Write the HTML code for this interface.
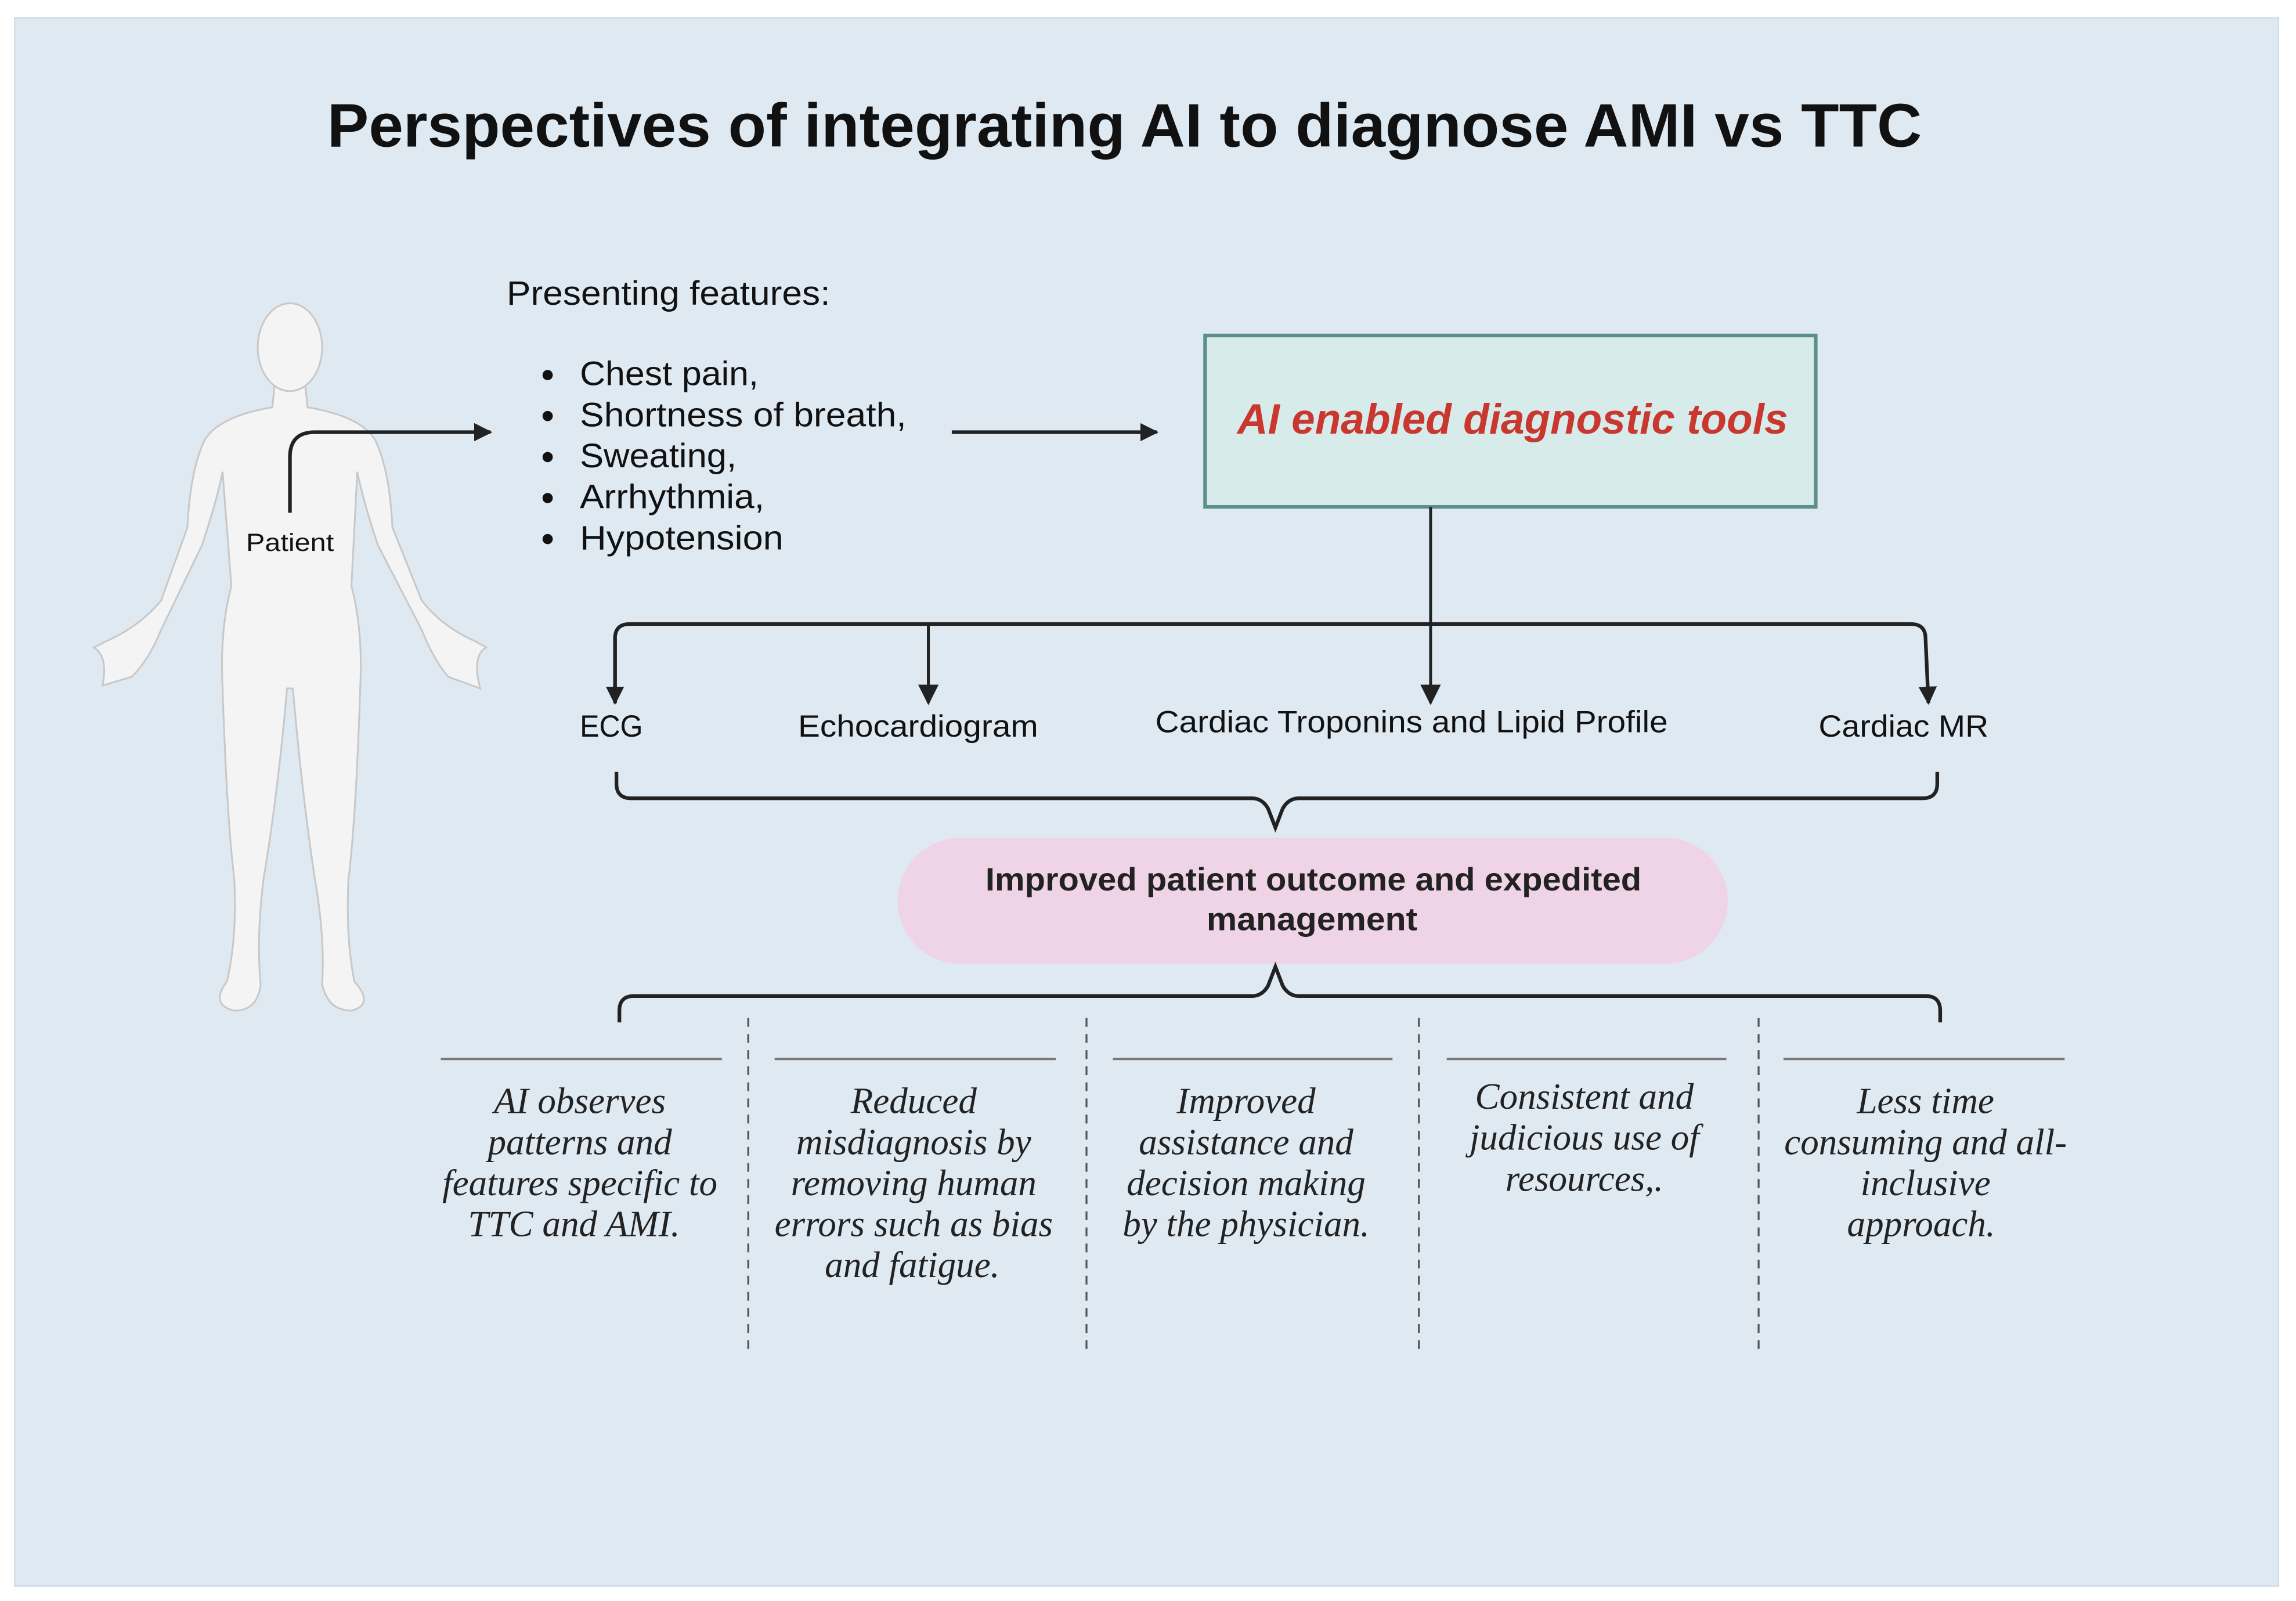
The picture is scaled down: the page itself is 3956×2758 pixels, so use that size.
<!DOCTYPE html>
<html><head><meta charset="utf-8"><style>
html,body{margin:0;padding:0;background:#fff}
svg{display:block}
.s{font-family:"Liberation Sans",sans-serif}
.i{font-family:"Liberation Serif",serif;font-style:italic;font-size:25px;fill:#222}
</style></head><body>
<svg width="3956" height="2758" viewBox="0 0 1568 1093" xmlns="http://www.w3.org/2000/svg">
<defs>
<marker id="ah" viewBox="0 0 10 10" refX="9" refY="5" markerWidth="5" markerHeight="5" orient="auto-start-reverse" markerUnits="strokeWidth">
<path d="M0,0 L10,5 L0,10 Z" fill="#222"/></marker>
<marker id="ah2" viewBox="0 0 10 10" refX="9" refY="5" markerWidth="7" markerHeight="7" orient="auto" markerUnits="strokeWidth">
<path d="M0,0 L10,5 L0,10 Z" fill="#222"/></marker>
</defs>
<rect x="0" y="0" width="1568" height="1093" fill="#fff"/>
<rect x="10" y="12" width="1546" height="1071" fill="#dfe9f2" stroke="#d3dde6" stroke-width="1"/>
<text class="s" x="768" y="100" text-anchor="middle" font-size="42" font-weight="bold" fill="#111" textLength="1089" lengthAdjust="spacingAndGlyphs">Perspectives of integrating AI to diagnose AMI vs TTC</text>

<!-- body -->
<g fill="#f4f4f4" stroke="#c8c8c8" stroke-width="1.2">
<path d="M188,258 L186,278 Q150,284 140,300 Q130,320 128,360 L110,410 Q95,428 72,438 L64,442 Q74,448 70,468 L90,462 Q102,450 110,430 L138,372 Q148,342 152,322 L158,400 Q150,430 152,470 Q155,560 160,600 Q162,640 155,670 Q143,686 160,690 Q176,690 178,672 Q175,640 180,600 Q190,540 196,470 L200,470 Q206,540 215,600 Q222,640 220,672 Q224,690 240,690 Q256,686 242,670 Q236,640 238,600 Q243,560 246,470 Q248,430 240,400 L244,322 Q248,342 258,372 L288,430 Q296,450 306,462 L328,470 Q322,448 332,442 L325,438 Q302,428 288,410 L268,360 Q266,320 256,300 Q246,284 210,278 L208,258 Z"/>
<ellipse cx="198" cy="237" rx="22" ry="30"/>
</g>
<path d="M198,350 L198,312 Q198,295 215,295 L335,295" fill="none" stroke="#222" stroke-width="2.5" marker-end="url(#ah)"/>
<text class="s" x="198" y="376" text-anchor="middle" font-size="17" fill="#111" textLength="60" lengthAdjust="spacingAndGlyphs">Patient</text>

<text class="s" x="346" y="208" font-size="23" fill="#111" textLength="221" lengthAdjust="spacingAndGlyphs">Presenting features:</text>
<g class="s" font-size="23" fill="#111">
<circle cx="374" cy="256" r="3.5"/><text x="396" y="263" textLength="122" lengthAdjust="spacingAndGlyphs">Chest pain,</text>
<circle cx="374" cy="284" r="3.5"/><text x="396" y="291" textLength="223" lengthAdjust="spacingAndGlyphs">Shortness of breath,</text>
<circle cx="374" cy="312" r="3.5"/><text x="396" y="319" textLength="107" lengthAdjust="spacingAndGlyphs">Sweating,</text>
<circle cx="374" cy="340" r="3.5"/><text x="396" y="347" textLength="126" lengthAdjust="spacingAndGlyphs">Arrhythmia,</text>
<circle cx="374" cy="368" r="3.5"/><text x="396" y="375" textLength="139" lengthAdjust="spacingAndGlyphs">Hypotension</text>
</g>
<line x1="650" y1="295" x2="790" y2="295" stroke="#222" stroke-width="2.5" marker-end="url(#ah)"/>

<rect x="823" y="229" width="417" height="117" fill="#d6ebea" stroke="#5b8f8b" stroke-width="2.5"/>
<text class="s" x="1033" y="296" text-anchor="middle" font-size="29" font-weight="bold" font-style="italic" fill="#c9372f" textLength="376" lengthAdjust="spacingAndGlyphs">AI enabled diagnostic tools</text>

<line x1="977" y1="346" x2="977" y2="480" stroke="#222" stroke-width="2" marker-end="url(#ah2)"/>
<path d="M420,480 L420,436 Q420,426 430,426 L1305,426 Q1315,426 1315,436 L1317,480" fill="none" stroke="#222" stroke-width="2.5" marker-end="url(#ah)"/>
<path d="M420,436 L420,480" fill="none" stroke="#222" stroke-width="2.5" marker-end="url(#ah)"/>
<line x1="634" y1="426" x2="634" y2="480" stroke="#222" stroke-width="2" marker-end="url(#ah2)"/>
<g class="s" font-size="21" fill="#111">
<text x="396" y="503" textLength="43" lengthAdjust="spacingAndGlyphs">ECG</text>
<text x="545" y="503" textLength="164" lengthAdjust="spacingAndGlyphs">Echocardiogram</text>
<text x="789" y="500" textLength="350" lengthAdjust="spacingAndGlyphs">Cardiac Troponins and Lipid Profile</text>
<text x="1242" y="503" textLength="116" lengthAdjust="spacingAndGlyphs">Cardiac MR</text>
</g>

<path d="M421,527 L421,535 Q421,545 431,545 L855,545 Q862,545 866,552 L871,565 L876,552 Q880,545 887,545 L1313,545 Q1323,545 1323,535 L1323,527" fill="none" stroke="#222" stroke-width="2.5"/>

<rect x="613" y="572" width="567" height="86" rx="43" fill="#efd3e6"/>
<g class="s" font-size="22" font-weight="bold" fill="#222" text-anchor="middle">
<text x="897" y="608" textLength="448" lengthAdjust="spacingAndGlyphs">Improved patient outcome and expedited</text>
<text x="896" y="635" textLength="144" lengthAdjust="spacingAndGlyphs">management</text>
</g>

<path d="M423,698 L423,690 Q423,680 433,680 L855,680 Q862,680 866,673 L871,660 L876,673 Q880,680 887,680 L1315,680 Q1325,680 1325,690 L1325,698" fill="none" stroke="#222" stroke-width="2.5"/>

<g stroke="#555" stroke-width="1.3" stroke-dasharray="6,5">
<line x1="511" y1="695" x2="511" y2="925"/>
<line x1="742" y1="695" x2="742" y2="925"/>
<line x1="969" y1="695" x2="969" y2="925"/>
<line x1="1201" y1="695" x2="1201" y2="925"/>
</g>
<g stroke="#777" stroke-width="1.5">
<line x1="301" y1="723" x2="493" y2="723"/>
<line x1="529" y1="723" x2="721" y2="723"/>
<line x1="760" y1="723" x2="951" y2="723"/>
<line x1="988" y1="723" x2="1179" y2="723"/>
<line x1="1218" y1="723" x2="1410" y2="723"/>
</g>
<g class="i" text-anchor="middle">
<text x="396" y="760">AI observes</text>
<text x="396" y="788">patterns and</text>
<text x="396" y="816">features specific to</text>
<text x="392" y="844">TTC and AMI.</text>
<text x="624" y="760">Reduced</text>
<text x="624" y="788">misdiagnosis by</text>
<text x="624" y="816">removing human</text>
<text x="624" y="844">errors such as bias</text>
<text x="623" y="872">and fatigue.</text>
<text x="851" y="760">Improved</text>
<text x="851" y="788">assistance and</text>
<text x="851" y="816">decision making</text>
<text x="851" y="844">by the physician.</text>
<text x="1082" y="757">Consistent and</text>
<text x="1082" y="785">judicious use of</text>
<text x="1082" y="813">resources,.</text>
<text x="1315" y="760">Less time</text>
<text x="1315" y="788">consuming and all-</text>
<text x="1315" y="816">inclusive</text>
<text x="1312" y="844">approach.</text>
</g>
</svg>
</body></html>
